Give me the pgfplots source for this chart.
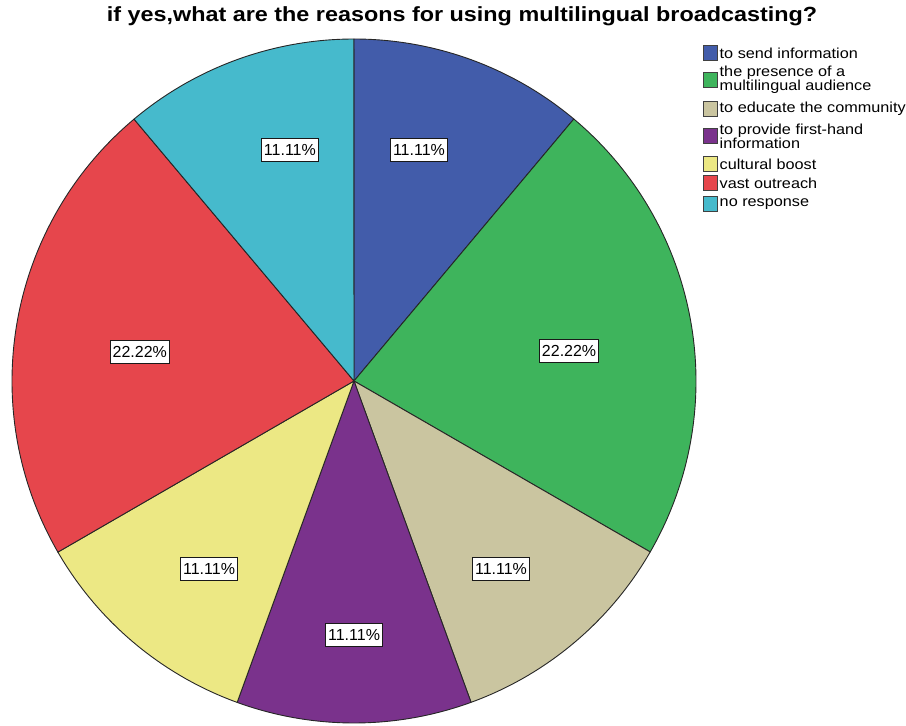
\documentclass[border=0pt]{standalone}
\usepackage{pgfplots}
\usepackage{pgfplotstable}
\pgfplotsset{compat=1.18}
\usepackage{fontspec}
\setmainfont{Liberation Sans}

\definecolor{sblue}{RGB}{66,92,170}
\definecolor{sgreen}{RGB}{62,180,92}
\definecolor{stan}{RGB}{202,197,160}
\definecolor{spurple}{RGB}{122,50,140}
\definecolor{syellow}{RGB}{236,232,132}
\definecolor{sred}{RGB}{230,70,76}
\definecolor{scyan}{RGB}{70,186,204}

% share of each reason (percent), slice colour,
% radial position and angular shift (degrees) of the value label
\pgfplotstableread[col sep=comma]{
share,colour,rlab,shift
11.11,sblue,0.702,4.3
22.22,sgreen,0.635,-2.1
11.11,stan,0.698,-2.0
11.11,spurple,0.743,0
11.11,syellow,0.695,2.4
22.22,sred,0.632,2.3
11.11,scyan,0.700,-4.5
}\slices

\begin{document}
\begin{tikzpicture}[
  lab/.style={draw=black!90, fill=white, line width=0.9pt, inner xsep=2.5pt, inner ysep=2pt,
    minimum height=23pt, font=\fontsize{16}{18}\selectfont}]
\begin{axis}[hide axis, scale only axis, width=906pt, height=726pt,
  xmin=0, xmax=906, ymin=0, ymax=726, clip=false]
  \pgfplotstablegetrowsof{\slices}
  \pgfmathtruncatemacro\nrows{\pgfplotsretval-1}
  \def\cx{354}\def\cy{345}\def\rad{342}
  \def\a{90}
  \pgfplotsforeachungrouped \i in {0,...,\nrows}{%
    \pgfplotstablegetelem{\i}{share}\of\slices \let\s\pgfplotsretval
    \pgfplotstablegetelem{\i}{colour}\of\slices \let\c\pgfplotsretval
    \pgfplotstablegetelem{\i}{rlab}\of\slices \let\rl\pgfplotsretval
    \pgfplotstablegetelem{\i}{shift}\of\slices \let\sh\pgfplotsretval
    \pgfmathsetmacro\b{\a-3.6*\s}
    \pgfmathsetmacro\m{(\a+\b)/2+\sh}
    \pgfmathsetmacro\px{\cx+\rad*cos(\a)}
    \pgfmathsetmacro\py{\cy+\rad*sin(\a)}
    \pgfmathsetmacro\lx{\cx+\rl*\rad*cos(\m)}
    \pgfmathsetmacro\ly{\cy+\rl*\rad*sin(\m)}
    \edef\cmd{%
      \noexpand\filldraw[fill=\c, draw=black!85, line width=0.9pt, line join=round]
        (axis cs:\cx,\cy) -- (axis cs:\px,\py)
        arc[start angle=\a, end angle=\b, radius=\rad pt] -- cycle;
      \noexpand\node[lab] at (axis cs:\lx,\ly) {\s\noexpand\%};}%
    \cmd
    \let\a\b
  }
\end{axis}

% title
\node[anchor=base, xscale=1.14, font=\fontsize{20.5}{24}\selectfont\bfseries] at (462pt,704pt)
  {if yes,what are the reasons for using multilingual broadcasting?};

% legend
\foreach \yy/\col/\txt in {
  673/sblue/{to send information},
  646/sgreen/{the presence of a\\multilingual audience},
  617/stan/{to educate the community},
  590/spurple/{to provide first-hand\\information},
  562/syellow/{cultural boost},
  543/sred/{vast outreach},
  522/scyan/{no response}}{
  \filldraw[fill=\col, draw=black!75, line width=0.8pt]
    (703pt,\yy pt-7.5pt) rectangle (717pt,\yy pt+7.5pt);
  \node[anchor=west, inner sep=0pt, align=left, xscale=1.12,
    font=\fontsize{14.5}{14}\selectfont] at (719.5pt,\yy pt) {\txt};
}
\pgfresetboundingbox
\path (0,0) rectangle (906pt,726pt);
\end{tikzpicture}
\end{document}
